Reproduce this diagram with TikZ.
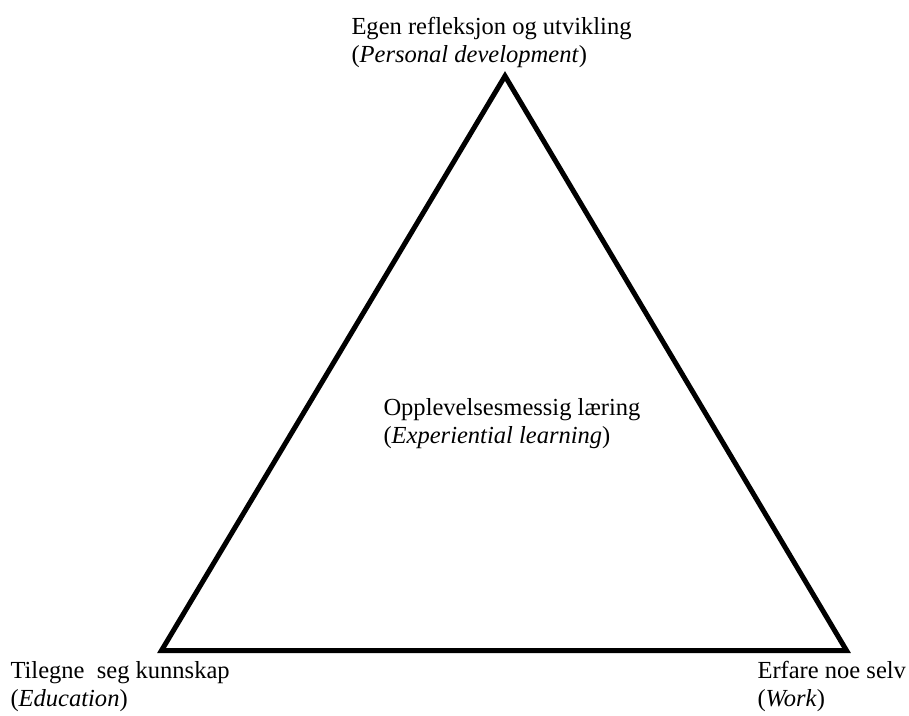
\documentclass[tikz,border=0pt]{standalone}
\usepackage{fontspec}
\setmainfont{Liberation Serif}
\tikzset{every picture/.style={line width=0.75pt}}
\tikzset{
  lbl/.style={anchor=base west, inner sep=0pt, align=left, font=\fontsize{18.4}{21}\selectfont},
  side/.style={line width=3.75pt, line join=miter}
}
\begin{document}
\begin{tikzpicture}[x=0.75pt,y=0.75pt,yscale=-1,xscale=1]
		\useasboundingbox (0,0) rectangle (909,715);
		%Shape: Triangle
		\coordinate (apex) at (505,76);
		\coordinate (work) at (846.5,650.5);
		\coordinate (edu) at (161.5,650.5);
		\draw [side] (apex) -- (work) -- (edu) -- cycle ;
		% Text Node (anchored at last baseline)
		\node [lbl] (personal) at (351,62) {Egen refleksjon og utvikling\\(\textit{Personal development})};
		% Text Node
		\node [lbl] (experiential) at (383,443) {Opplevelsesmessig læring\\(\textit{Experiential learning})};
		% Text Node
		\node [lbl] (education) at (10,706) {Tilegne\ \ seg kunnskap\\(\textit{Education})};
		% Text Node
		\node [lbl] (worklbl) at (757,706) {Erfare noe selv\\(\textit{Work})};
\end{tikzpicture}
\end{document}
